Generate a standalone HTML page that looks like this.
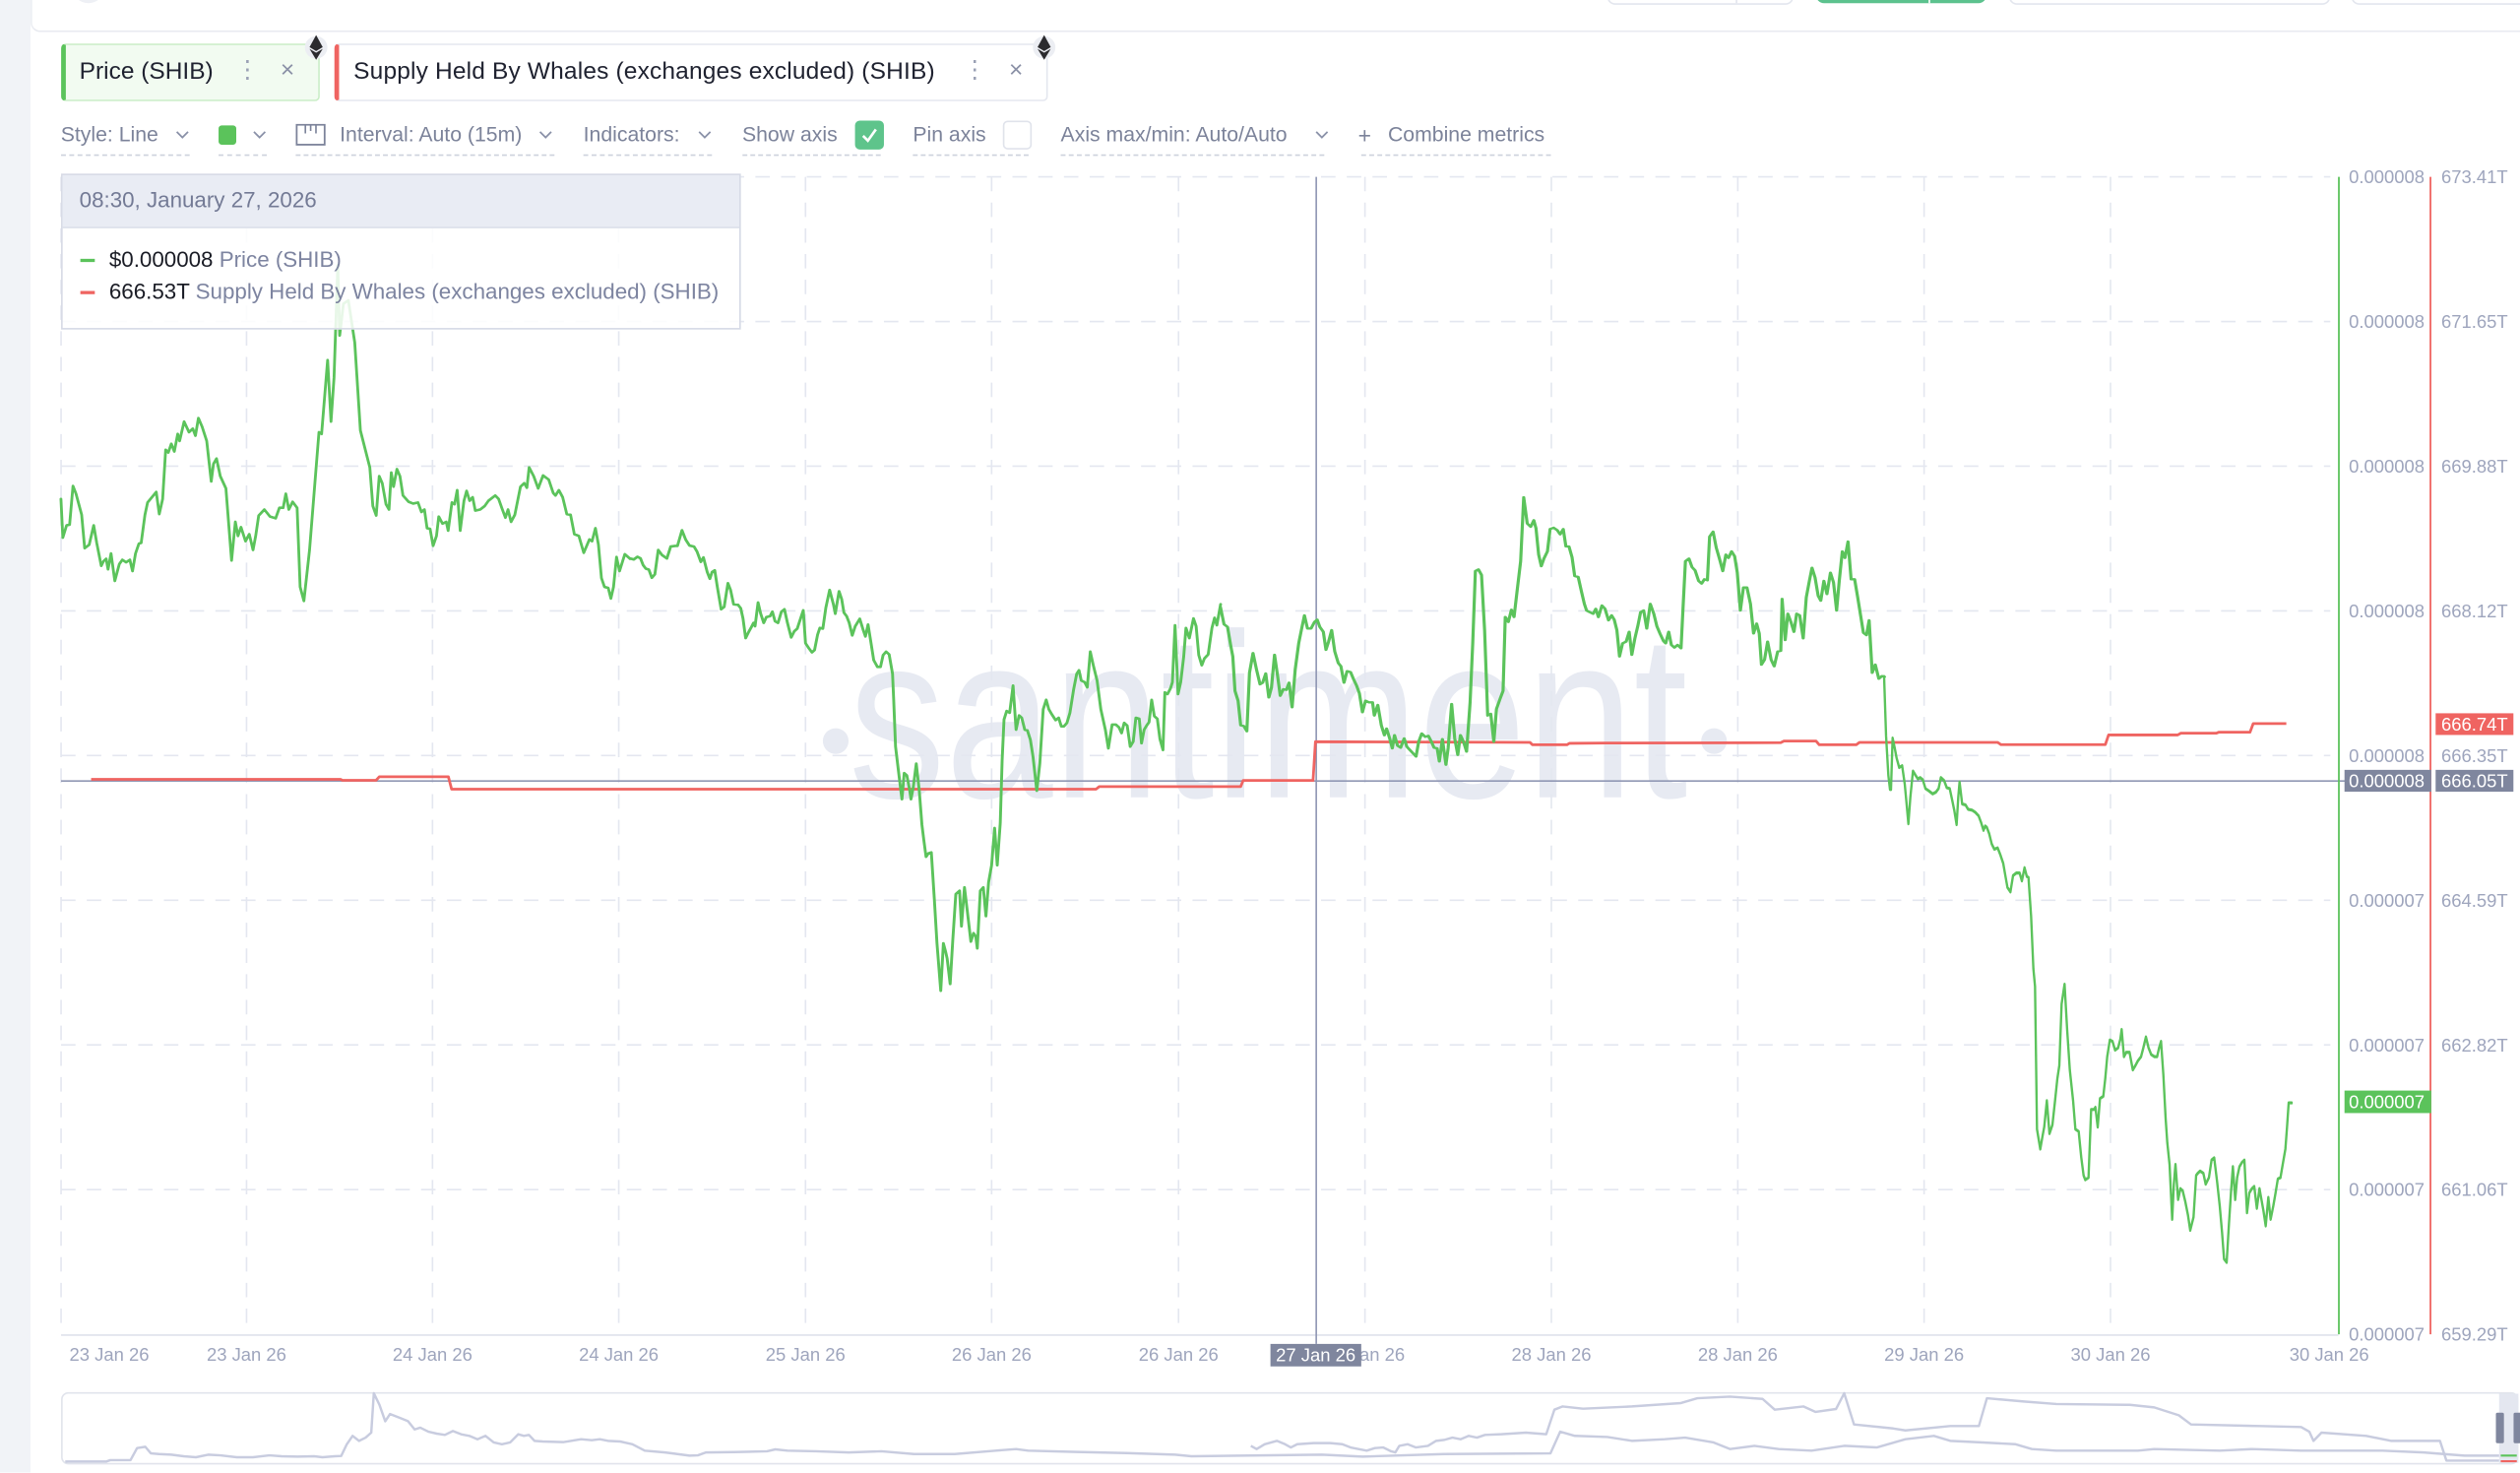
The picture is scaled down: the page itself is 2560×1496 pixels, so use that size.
<!DOCTYPE html>
<html><head><meta charset="utf-8">
<style>
html,body{margin:0;padding:0;width:2560px;height:1496px;overflow:hidden;background:#fff;}
#s{position:absolute;left:0;top:0;width:1568px;height:916px;transform:scale(1.632653);transform-origin:0 0;font-family:"Liberation Sans",Arial,sans-serif;background:#fff;overflow:hidden;}
.a{position:absolute;white-space:nowrap;}
.tb{position:absolute;font-size:13px;line-height:16px;top:75.7px;color:#7c839a;white-space:nowrap;}
.ul{position:absolute;top:96px;height:0;border-top:1px dashed #cdd1dc;}
.chev{position:absolute;top:81px;}
</style></head><body>
<div id="s">
  <!-- left strip -->
  <div class="a" style="left:0;top:0;width:19px;height:916px;background:#f1f3f7;"></div>
  <!-- header -->
  <div class="a" style="left:19px;top:-12px;width:1560px;height:31px;border-bottom:1px solid #e8eaf0;border-left:1px solid #eceef3;border-bottom-left-radius:6px;background:#fff;"></div>
  <div class="a" style="left:45px;top:-18px;width:20px;height:20px;border-radius:50%;background:#eef0f5;"></div>
  <div class="a" style="left:1000px;top:-20px;width:114px;height:21px;border:1px solid #e3e6ee;border-radius:5px;background:#fff;"></div>
  <div class="a" style="left:1080px;top:-20px;width:1px;height:22px;background:#e3e6ee;"></div>
  <div class="a" style="left:1129.5px;top:-20px;width:106px;height:22px;border-radius:5px;background:#5cc28e;"></div>
  <div class="a" style="left:1200px;top:-20px;width:1px;height:22px;background:#fff;"></div>
  <div class="a" style="left:1249.5px;top:-20px;width:198px;height:21px;border:1px solid #e3e6ee;border-radius:5px;background:#fff;"></div>
  <div class="a" style="left:1462.5px;top:-20px;width:120px;height:21px;border:1px solid #e3e6ee;border-radius:5px;background:#fff;"></div>

  <!-- tabs -->
  <div class="a" style="left:37.8px;top:26.5px;width:157px;height:34.5px;background:#f2fbf1;border:1px solid #c9edc6;border-left:3px solid #5bc35b;border-radius:3px;"></div>
  <div class="a" style="left:49.4px;top:35.5px;font-size:15px;line-height:18px;color:#1f2230;">Price (SHIB)</div>
  <div class="a" style="left:146.5px;top:35px;font-size:15px;line-height:18px;color:#9aa0b4;">&#8942;</div>
  <div class="a" style="left:174.5px;top:35px;font-size:15px;line-height:18px;color:#8a90a6;">&#215;</div>
  <div class="a" style="left:208.3px;top:26.5px;width:440px;height:34.5px;background:#fff;border:1px solid #e4e7ef;border-left:3px solid #ef6461;border-radius:3px;"></div>
  <div class="a" style="left:220px;top:35.5px;font-size:15px;line-height:18px;color:#1f2230;letter-spacing:0.1px;">Supply Held By Whales (exchanges excluded) (SHIB)</div>
  <div class="a" style="left:599px;top:35px;font-size:15px;line-height:18px;color:#9aa0b4;">&#8942;</div>
  <div class="a" style="left:627.8px;top:35px;font-size:15px;line-height:18px;color:#8a90a6;">&#215;</div>

  <!-- toolbar -->
  <div class="tb" style="left:37.8px;">Style: Line</div>
  <svg class="chev" style="left:108.5px" width="9" height="6"><polyline points="1,1 4.5,4.5 8,1" fill="none" stroke="#8a91a8" stroke-width="1.1"/></svg>
  <div class="ul" style="left:37.8px;width:80px;"></div>
  <div class="a" style="left:135.7px;top:78.3px;width:11.6px;height:11.6px;border-radius:2px;background:#5bc35b;"></div>
  <svg class="chev" style="left:156.5px" width="9" height="6"><polyline points="1,1 4.5,4.5 8,1" fill="none" stroke="#8a91a8" stroke-width="1.1"/></svg>
  <div class="ul" style="left:135.7px;width:30px;"></div>
  <svg class="a" style="left:183.9px;top:77.4px" width="19" height="14"><rect x="0.6" y="0.6" width="17.4" height="12.4" fill="none" stroke="#7c839a" stroke-width="1.1"/><line x1="6" y1="1" x2="6" y2="6" stroke="#7c839a" stroke-width="1"/><line x1="9.3" y1="1" x2="9.3" y2="4.5" stroke="#7c839a" stroke-width="1"/><line x1="12.6" y1="1" x2="12.6" y2="6" stroke="#7c839a" stroke-width="1"/></svg>
  <div class="tb" style="left:211.4px;">Interval: Auto (15m)</div>
  <svg class="chev" style="left:335px" width="9" height="6"><polyline points="1,1 4.5,4.5 8,1" fill="none" stroke="#8a91a8" stroke-width="1.1"/></svg>
  <div class="ul" style="left:183.9px;width:161px;"></div>
  <div class="tb" style="left:363px;">Indicators:</div>
  <svg class="chev" style="left:433.7px" width="9" height="6"><polyline points="1,1 4.5,4.5 8,1" fill="none" stroke="#8a91a8" stroke-width="1.1"/></svg>
  <div class="ul" style="left:363px;width:80px;"></div>
  <div class="tb" style="left:461.8px;">Show axis</div>
  <div class="a" style="left:531.8px;top:75px;width:18px;height:18px;border-radius:3px;background:#5ec48b;"></div>
  <svg class="a" style="left:531.8px;top:75px" width="18" height="18"><polyline points="5,9.5 8,12.5 13,5.5" fill="none" stroke="#fff" stroke-width="1.6"/></svg>
  <div class="ul" style="left:461.8px;width:86px;"></div>
  <div class="tb" style="left:568px;">Pin axis</div>
  <div class="a" style="left:623.8px;top:75px;width:16px;height:16px;border-radius:3px;background:#fff;border:1px solid #e0e3eb;"></div>
  <div class="ul" style="left:568px;width:72px;"></div>
  <div class="tb" style="left:660px;">Axis max/min: Auto/Auto</div>
  <svg class="chev" style="left:818px" width="9" height="6"><polyline points="1,1 4.5,4.5 8,1" fill="none" stroke="#8a91a8" stroke-width="1.1"/></svg>
  <div class="ul" style="left:660px;width:164px;"></div>
  <div class="tb" style="left:845px;font-size:14px;">+</div>
  <div class="tb" style="left:863.6px;">Combine metrics</div>
  <div class="ul" style="left:847px;width:118px;"></div>

  <!-- chart svg -->
  <svg class="a" style="left:0;top:0" width="1568" height="916" font-family="Liberation Sans, Arial, sans-serif">
    <!-- watermark -->
    <g fill="#e7eaf2">
      <circle cx="520" cy="461" r="8"/>
      <circle cx="1066.5" cy="461" r="8"/>
      <text x="528" y="496" font-size="146" textLength="522" lengthAdjust="spacingAndGlyphs">santiment</text>
    </g>
    <!-- grid -->
    <g stroke="#e4e7f0" stroke-width="1" stroke-dasharray="9 7" fill="none">
      <line x1="38" y1="110" x2="1450" y2="110"/>
      <line x1="38" y1="200" x2="1450" y2="200"/>
      <line x1="38" y1="290" x2="1450" y2="290"/>
      <line x1="38" y1="380" x2="1450" y2="380"/>
      <line x1="38" y1="470" x2="1450" y2="470"/>
      <line x1="38" y1="560" x2="1450" y2="560"/>
      <line x1="38" y1="650" x2="1450" y2="650"/>
      <line x1="38" y1="740" x2="1450" y2="740"/>
      <line x1="38" y1="110" x2="38" y2="830"/>
      <line x1="153.4" y1="110" x2="153.4" y2="830"/>
      <line x1="269.1" y1="110" x2="269.1" y2="830"/>
      <line x1="385" y1="110" x2="385" y2="830"/>
      <line x1="501.2" y1="110" x2="501.2" y2="830"/>
      <line x1="617" y1="110" x2="617" y2="830"/>
      <line x1="733.3" y1="110" x2="733.3" y2="830"/>
      <line x1="849.3" y1="110" x2="849.3" y2="830"/>
      <line x1="965.3" y1="110" x2="965.3" y2="830"/>
      <line x1="1081.3" y1="110" x2="1081.3" y2="830"/>
      <line x1="1197.2" y1="110" x2="1197.2" y2="830"/>
      <line x1="1313.2" y1="110" x2="1313.2" y2="830"/>
    </g>
    <line x1="38" y1="830.5" x2="1455" y2="830.5" stroke="#dfe2eb" stroke-width="1"/>
    <!-- crosshair -->
    <line x1="38" y1="485.8" x2="1459" y2="485.8" stroke="#9097b4" stroke-width="1"/>
    <line x1="819" y1="110" x2="819" y2="836" stroke="#9097b4" stroke-width="1"/>

    <!-- supply (red) -->
    <polyline fill="none" stroke="#ef6461" stroke-width="1.7" stroke-linejoin="round" points="56.7,484.8 212,484.8 213,485.4 234,485.4 236,483.2 279,483.2 281,490.9 682,490.9 684,489.3 772,489.3 773.5,485.5 817,485.5 818.5,461.4 952,461.8 953.5,463.3 975,463.3 976.5,462.4 1000,462.2 1108,462 1110,461 1130,461 1132,463.3 1155,463.3 1157,461.8 1243,461.8 1245,463.2 1310,463.2 1312,457.2 1355,457.2 1357,456.1 1379,456.1 1380.5,455.5 1400,455.5 1402,450.1 1422.6,450.1"/>

    <!-- price (green) -->
    <g fill="none" stroke="#5bc35b" stroke-linejoin="round" stroke-linecap="round">
      <polyline transform="translate(36.75,171.5) scale(0.23437,0.21875)" stroke-width="7.4" points="5,635 10,745 20,710 28,708 37,598 45,620 60,680 68,775 80,765 92,710 100,760 112,825 118,812 125,805 130,835 138,790 148,868 160,820 168,808 178,815 188,808 195,840 203,790 212,762 218,760 228,680 235,645 245,632 258,615 266,678 275,635 283,495 290,503 298,478 306,500 315,450 320,470 332,415 345,445 355,435 362,455 370,405 380,430 392,470 404,585 410,535 418,520 428,570 443,605 458,810 468,700 475,740 483,715 495,755 505,735 515,780 522,740 530,682 545,665 560,685 575,690 585,660 595,660 602,620 610,665 620,643 632,660 640,885 650,925 665,780 690,445 697,450 713,240 722,415 730,290 740,-30 745,170 755,80 768,70 785,190 800,440 825,545 833,655 842,682 850,570 858,590 868,650 876,665 882,560 888,600 897,550 905,570 913,625 928,643 940,648 953,645 962,672 970,665 977,718 985,720 993,768 1002,740 1008,685 1018,705 1028,700 1033,725 1043,645 1050,650 1057,610 1065,725 1075,640 1082,612 1090,640 1098,630 1105,668 1118,665 1130,655 1140,640 1158,625 1167,635 1177,665 1185,688 1192,665 1200,700 1210,680 1225,600 1235,590 1242,603 1248,545 1260,570 1272,605 1285,568 1300,580 1312,618 1318,625 1327,610 1337,630 1348,678 1358,680 1368,735 1380,740 1393,788 1408,750 1415,755 1424,718 1432,765 1440,860 1448,885 1458,888 1465,918 1472,885 1480,800 1488,840 1502,792 1516,805"/>
      <polyline transform="translate(392,306.25) scale(0.23437,0.21094)" stroke-width="7.6" points="0,195 10,198 20,190 28,195 35,215 42,225 50,228 58,252 66,242 75,170 85,185 98,195 108,160 120,158 126,158 138,112 148,140 158,157 170,160 178,175 188,205 195,192 205,235 212,255 218,235 225,230 232,280 242,345 250,338 260,268 267,288 275,330 287,332 294,342 300,372 307,430 315,412 322,398 328,385 332,395 340,325 347,358 355,385 362,368 372,365 378,352 385,380 393,385 402,352 410,345 418,385 428,428 436,410 444,402 452,375 460,348 466,445 475,460 483,472 490,465 498,420 504,400 512,402 520,340 530,288 540,330 545,358 555,292 562,315 568,355 575,365 582,385 590,422 598,395 610,373 618,402 625,425 632,390 640,445 647,495 657,515 665,515 672,480 680,470 688,478 697,535 700,610 705,750 712,815 718,870 722,905 728,828 735,835 742,875 746,905 752,870 760,800 768,880 775,980 780,1025 786,1075 792,1065 800,1062 808,1200 815,1330 825,1470 832,1330 838,1355 842,1375 850,1450 857,1320 865,1185 875,1175 880,1280 888,1165 895,1230 905,1325 912,1300 918,1310 922,1345 930,1175 938,1165 945,1250 952,1150 960,1100 968,990 975,1100 983,975 988,790 993,670 1000,645 1008,650 1017,570 1025,700 1033,658 1040,665 1048,700 1055,702 1063,730 1070,780 1080,880 1088,800 1097,640 1105,612 1112,640 1120,655 1130,672 1138,665 1145,690 1152,690 1160,680 1168,650 1178,580 1186,535 1192,525 1198,555 1207,560 1214,575 1222,470 1230,510 1240,555 1250,640 1262,700 1270,755 1280,685 1290,685 1298,693 1305,710 1312,680 1320,688 1328,750 1336,735 1343,665 1352,668 1358,740 1365,700 1372,687 1378,678 1385,612 1392,660 1400,668 1407,728 1415,760 1420,590 1427,595 1435,578 1440,560 1447,392 1455,595 1462,560 1470,485 1476,400 1485,430 1496,372 1503,395 1510,480 1518,510 1525,490 1535,478 1545,400 1552,370 1558,392 1568,330"/>
      <polyline transform="translate(753.4,294) scale(0.27344,0.20417)" stroke-width="7.1" points="22,410 30,462 38,470 45,525 50,560 55,665 62,695 68,770 75,772 82,788 88,610 96,550 104,600 112,645 118,640 125,612 132,685 138,655 145,555 152,620 158,680 165,660 172,662 178,640 185,715 192,600 200,520 206,480 213,435 220,475 228,475 236,455 242,448 248,470 256,485 262,540 268,515 275,480 282,545 290,580 296,590 303,640 310,605 318,608 325,630 332,650 338,672 345,730 352,695 360,700 368,700 372,740 380,708 388,770 395,800 400,780 407,810 413,840 418,800 425,832 432,838 440,810 446,835 453,845 460,855 467,865 473,820 480,795 488,805 495,802 502,820 508,838 515,840 520,880 527,812 535,890 540,840 548,705 555,810 562,860 568,800 575,820 582,850 590,700 596,520 602,300 609,295 616,312 623,480 630,740 637,735 644,820 650,720 658,690 665,665 670,440 677,455 684,418 690,440 697,360 705,270 712,75 720,155 728,165 735,145 740,170 746,250 752,285 758,262 766,240 772,172 780,168 788,175 795,188 802,172 808,225 815,225 822,258 828,315 836,318 843,360 850,400 855,420 862,425 870,430 876,415 882,440 890,405 897,415 905,450 912,435 918,448 924,480 930,560 937,520 945,515 952,485 958,555 965,505 972,465 978,425 985,420 992,475 1000,400 1008,430 1015,468 1022,490 1030,513 1035,520 1042,485 1048,525 1055,533 1062,525 1070,535 1075,400 1080,270 1088,262 1095,288 1102,298 1110,330 1117,338 1123,325 1130,328 1135,195 1143,180 1150,228 1158,265 1165,300 1172,250 1178,260 1185,240 1192,255 1198,305 1205,420 1212,350 1220,350 1228,400 1235,490 1242,460 1248,490 1253,585 1260,570 1267,515 1275,570 1282,590 1290,545 1297,543 1300,385 1307,510 1313,430 1320,455 1327,485 1333,430 1340,435 1348,505 1355,380 1362,330 1368,290 1375,320 1382,375 1388,390 1395,330 1402,370 1410,305 1417,335 1424,420 1430,330 1437,240 1443,260 1450,210 1457,325 1465,325 1472,380 1478,430 1485,488 1492,495 1498,450 1505,610 1512,585 1520,628 1527,620 1533,622"/>
      <polyline transform="translate(1163.75,367.5) scale(0.20417,0.27344)" stroke-width="7.1" points="42,195 48,330 55,420 60,452 63,452 68,335 75,360 80,380 88,402 97,398 105,440 110,480 116,530 122,470 130,410 138,420 145,428 152,425 160,430 168,450 178,455 190,462 200,458 208,450 215,425 225,432 233,448 242,450 250,478 256,500 263,532 268,470 272,435 280,485 290,487 298,497 310,499 320,504 330,512 338,528 345,545 350,535 355,538 362,552 370,576 378,588 388,585 396,600 405,620 412,650 418,675 427,685 435,648 445,642 455,642 462,660 470,630 477,650 482,652 490,740 497,860 502,900 508,1225 518,1270 525,1240 530,1220 538,1160 546,1235 555,1215 563,1160 570,1110 576,1080 583,940 592,895 600,1000 608,1090 618,1160 625,1225 635,1230 643,1290 650,1330 655,1340 665,1335 673,1180 682,1180 686,1175 693,1220 700,1155 710,1150 716,1110 722,1060 730,1022 738,1025 746,1045 755,1040 762,1020 766,998 773,1060 780,1050 790,1050 800,1090 808,1080 815,1070 825,1060 832,1040 840,1015 848,1040 856,1055 866,1060 874,1060 880,1040 886,1025 893,1100 900,1200 905,1255 912,1305 920,1430 925,1350 930,1305 938,1385 945,1360 952,1365 960,1390 968,1420 975,1455 985,1425 993,1330 998,1325 1005,1320 1015,1325 1022,1350 1032,1335 1040,1295 1048,1290 1057,1345 1065,1400 1072,1460 1078,1520 1086,1528 1093,1440 1100,1360 1105,1310 1112,1385 1118,1335 1125,1310 1133,1300 1140,1295 1148,1415 1155,1370 1163,1360 1170,1355 1178,1405 1186,1360 1192,1385 1198,1410 1205,1445 1213,1380 1220,1430 1228,1400 1235,1370 1242,1338 1250,1335 1258,1300 1265,1270 1270,1220 1275,1165 1284,1165"/>
    </g>

    <!-- right axes -->
    <line x1="1455.3" y1="110" x2="1455.3" y2="830" stroke="#5bc35b" stroke-width="1.1"/>
    <line x1="1512.3" y1="110" x2="1512.3" y2="830" stroke="#ef6461" stroke-width="1.1"/>
    <g font-size="11.3" fill="#9ea5bd">
      <g text-anchor="end">
        <text x="1508.6" y="114">0.000008</text>
        <text x="1508.6" y="204">0.000008</text>
        <text x="1508.6" y="294">0.000008</text>
        <text x="1508.6" y="384">0.000008</text>
        <text x="1508.6" y="474">0.000008</text>
        <text x="1508.6" y="564">0.000007</text>
        <text x="1508.6" y="654">0.000007</text>
        <text x="1508.6" y="744">0.000007</text>
        <text x="1508.6" y="834">0.000007</text>
      </g>
      <text x="1519" y="114">673.41T</text>
      <text x="1519" y="204">671.65T</text>
      <text x="1519" y="294">669.88T</text>
      <text x="1519" y="384">668.12T</text>
      <text x="1519" y="474">666.35T</text>
      <text x="1519" y="564">664.59T</text>
      <text x="1519" y="654">662.82T</text>
      <text x="1519" y="744">661.06T</text>
      <text x="1519" y="834">659.29T</text>
    </g>
    <!-- value labels -->
    <rect x="1515.5" y="443.7" width="48.4" height="13.5" fill="#ef6461"/>
    <text x="1519" y="454.4" font-size="11.3" fill="#fff">666.74T</text>
    <rect x="1458.8" y="478.9" width="54" height="13.6" fill="#7f869e"/>
    <text x="1508.6" y="489.6" font-size="11.3" fill="#fff" text-anchor="end">0.000008</text>
    <rect x="1515.5" y="478.9" width="48.4" height="13.6" fill="#7f869e"/>
    <text x="1519" y="489.6" font-size="11.3" fill="#fff">666.05T</text>
    <rect x="1458.8" y="678.4" width="54" height="14" fill="#5bc35b"/>
    <text x="1508.6" y="689.4" font-size="11.3" fill="#fff" text-anchor="end">0.000007</text>

    <!-- x labels -->
    <g font-size="11.3" fill="#9ea5bd" text-anchor="middle">
      <text x="43.2" y="846.5" text-anchor="start">23 Jan 26</text>
      <text x="153.4" y="846.5">23 Jan 26</text>
      <text x="269.1" y="846.5">24 Jan 26</text>
      <text x="385" y="846.5">24 Jan 26</text>
      <text x="501.2" y="846.5">25 Jan 26</text>
      <text x="617" y="846.5">26 Jan 26</text>
      <text x="733.3" y="846.5">26 Jan 26</text>
      <text x="849.3" y="846.5">27 Jan 26</text>
      <text x="965.3" y="846.5">28 Jan 26</text>
      <text x="1081.3" y="846.5">28 Jan 26</text>
      <text x="1197.2" y="846.5">29 Jan 26</text>
      <text x="1313.2" y="846.5">30 Jan 26</text>
      <text x="1449.3" y="846.5">30 Jan 26</text>
    </g>
    <rect x="790.5" y="836" width="56.5" height="14" fill="#7f869e"/>
    <text x="818.7" y="846.8" font-size="11.3" fill="#fff" text-anchor="middle">27 Jan 26</text>

    <!-- navigator -->
    <rect x="38.5" y="866.5" width="1528" height="44" rx="4" fill="#fff" stroke="#e1e4ec" stroke-width="1"/>
    <rect x="1555" y="867" width="12" height="43" fill="#e4e7f0"/>
    <g fill="none" stroke="#c8ccdf" stroke-width="1.5" stroke-linejoin="round">
      <polyline points="40.6,909.2 66,909.2 68.6,908.3 81.2,908.3 85.3,900.8 90.4,900 93.9,904.1 99,904.5 106.6,904.9 114.3,905.9 121.9,906.5 129.5,904.9 137.1,905.3 147.3,906.5 157.4,906.5 167.6,905.3 175.2,905.9 185.3,906.1 195.5,905.9 200.6,906.5 208.2,905.9 212.3,905.7 215.8,898.4 219.4,893.2 223.4,896.3 227.5,894.3 231,891.2 232.6,866.7 236.1,873.9 239.7,884.1 242.7,879.6 248.8,882 253.9,884.1 258,889.2 261.5,888.1 266.6,890.6 271.7,891.8 276.8,892.6 281.8,890.2 286.9,892.2 292,893.2 297.1,895.3 302.1,893.2 307.2,897.3 312.3,898.4 317.4,897.3 322.5,892.2 326,893.2 329.1,892.6 332.6,896.3 337.7,896.7 350.4,897.1 361.6,895.3 368.2,895.9 373.2,895.3 378.3,896.3 385.9,896.7 393.5,898.4 401.2,902.4 413.9,903.5 429.1,905.5 434.2,905.3 439.2,903.5 457,903.3 477.3,902.8 482.4,901.6 490,902.4 507.8,902.8 528.1,903.5 548.4,902.8 568.7,904.5 594.1,904.5 619.5,902.4 632.2,901.4 639.8,902.4 670.3,903.2 700.8,903.9 731.2,904.9 741.4,905.9 771.9,905.5 822.5,904.9 847.9,906.1 898.7,904.5 964.7,904.1 970.8,890.6 979.9,893.2 1000.2,893.9 1015.4,896.3 1035.8,895.3 1048.5,894.3 1066.2,897.3 1076.4,901.4 1091.6,899.4 1106.8,901.4 1127.2,902.4 1147.5,899.4 1167.8,900.4 1185.6,895.3 1203.3,893.2 1213.5,896.3 1233.8,897.3 1254.1,898.4 1264.3,901.4 1279.5,902.4 1330.3,902.4 1340.4,901.4 1381.1,902.4 1401.4,901.4 1431.8,902.4 1482.6,902.4 1508,903.5 1533.4,905.5 1555,905.5"/>
      <polyline points="778.3,899.4 781.9,901.4 786.9,898.4 794.6,896.3 799.6,898.4 803.2,900.4 807.2,898.4 817.4,897.7 827.6,897.7 835.2,898.4 840.3,900.4 845.3,901.4 850.4,902.4 855.5,900.8 860.6,900.4 865.6,902.8 868.2,903.5 870.7,899.4 875.8,898.4 880.9,900.4 888.5,899.4 893.6,896.3 898.7,895.7 903.7,894.3 908.8,895.3 913.9,893.2 919,894.3 924,892.6 934.2,892.2 949.4,891.2 962.1,892.2 967.2,876.9 972.3,874.9 985,876.3 1015.4,874.9 1045.9,872.8 1056.1,869.8 1076.4,868.8 1096.7,870.2 1104.3,876.9 1122.1,874.9 1129.7,878.3 1142.4,876.5 1147.5,866.7 1153.6,886.1 1178,888.6 1185.6,889.8 1213.5,887.1 1231.3,887.1 1236.3,869.8 1259.2,871.8 1279.5,873.4 1325.2,873.9 1340.4,875.5 1355.7,880.4 1363.3,886.1 1406.4,887.1 1431.8,887.7 1436.9,890.6 1439.5,896.3 1444.5,891.2 1472.3,893.2 1487.7,896.3 1518.2,896.3 1522.2,908.6 1555,908.6"/>
    </g>
    <line x1="1556" y1="905.5" x2="1566" y2="905.5" stroke="#5bc35b" stroke-width="1.3"/>
    <line x1="1556" y1="909" x2="1566" y2="909" stroke="#ef6461" stroke-width="1.3"/>
    <rect x="1553" y="878.8" width="5" height="19" rx="1" fill="#7f869e"/>
    <rect x="1564" y="878.8" width="5" height="19" rx="1" fill="#7f869e"/>

    <!-- eth icons -->
    <g>
      <circle cx="196.7" cy="29.5" r="7" fill="#eceef3"/>
      <polygon points="196.7,21.8 200.8,29.3 196.7,31.8 192.6,29.3" fill="#2b2b2e"/>
      <polygon points="196.7,32.8 200.8,30.4 196.7,37.2 192.6,30.4" fill="#2b2b2e"/>
      <circle cx="649.7" cy="29.5" r="7" fill="#eceef3"/>
      <polygon points="649.7,21.8 653.8,29.3 649.7,31.8 645.6,29.3" fill="#2b2b2e"/>
      <polygon points="649.7,32.8 653.8,30.4 649.7,37.2 645.6,30.4" fill="#2b2b2e"/>
    </g>
  </svg>

  <!-- tooltip -->
  <div class="a" style="left:37.8px;top:108.2px;width:421.7px;height:95.3px;border:1px solid #d6dae6;background:rgba(255,255,255,0.86);"></div>
  <div class="a" style="left:38.8px;top:109.2px;width:421.7px;height:32px;background:#e9ecf4;border-bottom:1px solid #dde1eb;"></div>
  <div class="a" style="left:49.4px;top:116.8px;font-size:13.7px;line-height:16px;color:#737a95;">08:30, January 27, 2026</div>
  <div class="a" style="left:50.3px;top:161.3px;width:8.6px;height:2px;background:#5bc35b;"></div>
  <div class="a" style="left:67.9px;top:154.3px;font-size:13.7px;line-height:16px;color:#1a1c25;">$0.000008 <span style="color:#7d84a0;">Price (SHIB)</span></div>
  <div class="a" style="left:50.3px;top:180.7px;width:8.6px;height:2px;background:#ef6461;"></div>
  <div class="a" style="left:67.9px;top:173.7px;font-size:13.7px;line-height:16px;color:#1a1c25;">666.53T <span style="color:#7d84a0;">Supply Held By Whales (exchanges excluded) (SHIB)</span></div>
</div>
</body></html>
